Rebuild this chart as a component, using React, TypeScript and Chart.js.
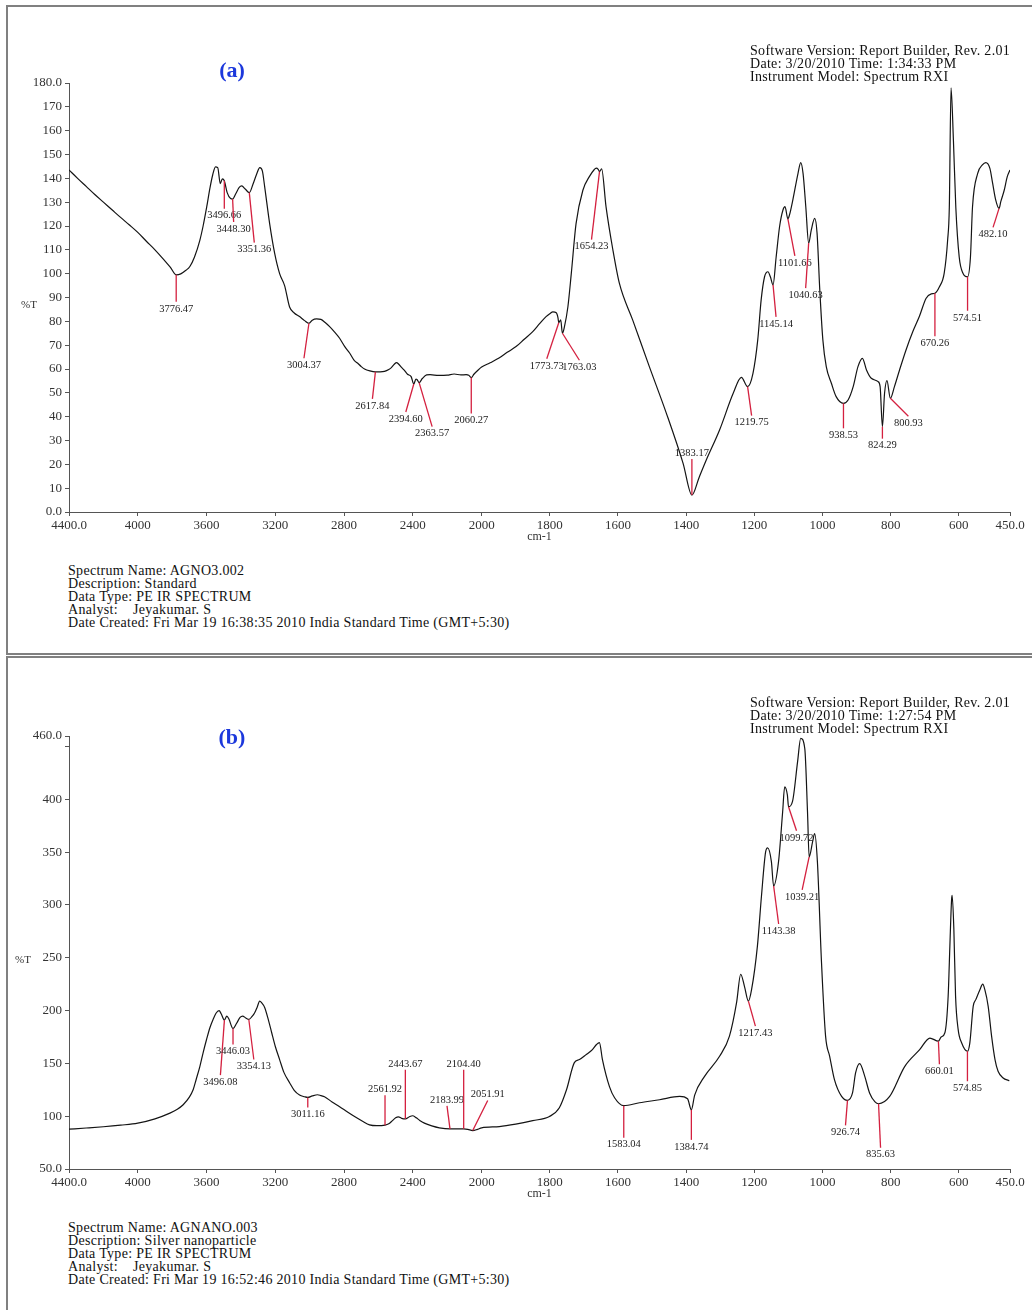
import React, { useEffect, useRef } from 'react';
import { Chart, LinearScale, registerables } from 'chart.js';

// ---------- Spectrum (a): AgNO3 standard ----------
const wavenumbersA = [
  4400, 4350, 4300, 4250, 4200, 4150, 4100, 4050, 4000, 3950, 3900, 3850, 3810, 3776.47, 3750, 3720,
  3697, 3670, 3639, 3620, 3599, 3580, 3564, 3548, 3535, 3520, 3508, 3496.66, 3480, 3460, 3448.3, 3430,
  3410, 3395, 3375, 3351.36, 3330, 3310, 3290, 3275, 3262, 3233, 3204, 3175, 3146, 3117, 3090, 3059,
  3030, 3004.37, 2985, 2960, 2935, 2910, 2884, 2855, 2826, 2797, 2768, 2740, 2722, 2700, 2681, 2650,
  2617.84, 2590, 2565, 2540, 2525, 2508, 2495, 2482, 2466, 2450, 2431, 2410, 2394.6, 2382, 2375, 2363.57,
  2345, 2320, 2300, 2250, 2200, 2160, 2120, 2090, 2075, 2060.27, 2045, 2020, 2000, 1975, 1949, 1925,
  1899, 1875, 1850, 1830, 1811, 1800, 1791, 1781, 1776, 1773.73, 1768, 1763.03, 1757, 1747, 1737, 1723,
  1703, 1684, 1670, 1664, 1658, 1654.23, 1648, 1635, 1615, 1596, 1557, 1508, 1458, 1409, 1383.17, 1362,
  1341, 1302, 1262, 1238, 1219.75, 1204, 1190, 1180, 1170, 1160, 1153, 1145.14, 1136, 1126, 1116, 1110,
  1101.66, 1097, 1087, 1072, 1064, 1057, 1049, 1040.63, 1033, 1023, 1016, 1008, 999, 989, 974, 960,
  938.53, 925, 910, 896, 883, 871, 857, 837, 831, 824.29, 818, 811, 800.93, 789, 774, 755,
  735, 716, 696, 681, 670.26, 657, 643, 633, 628, 623, 616, 609, 599, 588, 574.51, 566,
  560, 545, 531, 521, 509, 501, 492, 482.1, 477, 467, 458, 450,
];
const transmittanceA = [
  143.5, 140.0, 136.6, 133.2, 130.0, 126.8, 123.6, 120.5, 117.3, 113.6, 110.0, 106.0, 102.6, 99.5, 99.9, 101.4,
  103.0, 107.0, 114.0, 120.0, 128.0, 136.0, 141.5, 144.8, 144.5, 137.8, 139.8, 139.0, 134.0, 131.5, 131.3, 133.5,
  136.2, 136.8, 135.5, 134.0, 137.5, 141.5, 144.5, 143.0, 136.5, 121.0, 108.6, 100.0, 95.0, 86.0, 83.5, 82.0,
  80.3, 79.2, 80.5, 81.0, 80.8, 79.5, 77.8, 75.5, 72.9, 69.5, 66.7, 63.5, 62.5, 61.0, 60.0, 59.2,
  58.8, 58.8, 59.0, 59.8, 60.6, 62.0, 62.7, 62.0, 60.7, 59.5, 57.8, 56.8, 53.7, 55.8, 55.5, 54.3,
  56.0, 57.5, 57.6, 57.3, 57.4, 57.9, 57.5, 57.6, 57.4, 56.4, 57.8, 59.6, 60.8, 62.6, 64.6, 67.0,
  69.4, 72.5, 75.7, 79.0, 82.0, 83.2, 84.0, 83.6, 81.5, 79.4, 80.6, 75.0, 77.8, 86.0, 100.0, 121.0,
  135.0, 140.7, 143.6, 144.3, 143.8, 142.8, 144.0, 128.0, 110.0, 96.0, 80.6, 61.0, 41.4, 20.4, 7.1, 14.5,
  21.8, 34.4, 49.8, 56.5, 52.6, 58.2, 72.2, 89.0, 98.7, 100.8, 98.7, 95.3, 107.0, 119.7, 126.7, 128.1,
  123.0, 124.6, 131.0, 142.0, 146.6, 142.0, 128.0, 112.8, 118.3, 123.2, 117.0, 93.2, 72.2, 61.0, 54.0, 48.4,
  45.6, 47.0, 52.6, 61.0, 64.5, 59.6, 56.1, 54.7, 52.6, 35.8, 49.8, 55.1, 47.7, 52.6, 59.6, 68.0,
  75.7, 82.0, 89.7, 91.5, 91.8, 94.5, 100.2, 114.0, 128.0, 178.0, 156.0, 128.0, 107.0, 100.2, 98.7, 107.0,
  128.0, 142.0, 145.6, 146.6, 144.2, 138.0, 131.0, 127.4, 130.2, 135.0, 140.7, 143.5,
];
const peaksA = [
  3776.47, 3496.66, 3448.3, 3351.36, 3004.37, 2617.84, 2394.6, 2363.57, 2060.27, 1773.73, 1763.03, 1654.23,
  1383.17, 1219.75, 1145.14, 1101.66, 1040.63, 938.53, 824.29, 800.93, 670.26, 574.51, 482.1,
];
// leader line end, in pixels from the marked point
const leadersA: [number, number][] = [
  [0, 27], [0, 28], [1, 23], [5, 50], [-5, 35], [-3, 27], [-8, 28], [13, 44], [0, 36], [-12, 36], [17, 27], [-8, 68],
  [0, -36], [4, 29], [3, 32], [7, 37], [-3, 45], [0, 25], [0, 12], [18, 18], [0, 43], [0, 34], [-6, 19],
];

// ---------- Spectrum (b): silver nanoparticles ----------
const wavenumbersB = [
  4400, 4300, 4200, 4100, 4000, 3900, 3813, 3770, 3736, 3700, 3678, 3660, 3639, 3620, 3600, 3580,
  3562, 3545, 3527, 3515, 3496.08, 3482, 3470, 3446.03, 3425, 3405, 3390, 3372, 3354.13, 3335, 3320, 3305,
  3291, 3280, 3262, 3240, 3221, 3200, 3175, 3150, 3117, 3090, 3059, 3030, 3011.16, 2985, 2954, 2935,
  2914, 2870, 2826, 2780, 2739, 2695, 2652, 2610, 2561.92, 2540, 2524, 2500, 2484, 2465, 2443.67, 2420,
  2402, 2380, 2360, 2333, 2290, 2246, 2183.99, 2140, 2104.4, 2080, 2051.91, 2025, 2000, 1948, 1900, 1850,
  1801, 1772, 1751, 1728, 1713, 1693, 1675, 1663, 1654.5, 1645.6, 1625, 1610, 1583.04, 1537, 1478, 1419,
  1396, 1384.74, 1375, 1346, 1302, 1273, 1252, 1240, 1229, 1217.43, 1208, 1191, 1179, 1167, 1161, 1150,
  1143.38, 1129, 1117, 1111, 1103, 1099.72, 1088, 1073, 1064, 1052, 1044, 1039.21, 1029, 1023, 1015, 1003,
  991, 979, 965, 944, 926.74, 912, 903, 891, 876, 862, 846, 835.63, 803, 759, 715, 685,
  660.01, 652, 641, 631.4, 626.4, 621.4, 619.7, 614.7, 609.7, 602, 592, 574.85, 567.8, 558, 550, 538,
  530, 524, 514, 504, 494, 485, 470, 455, 452,
];
const transmittanceB = [
  87.7, 88.8, 90.0, 91.5, 93.4, 97.5, 102.9, 106.5, 110.8, 118.0, 125.0, 135.0, 147.0, 160.0, 172.6, 184.0,
  191.6, 197.5, 200.0, 197.0, 191.0, 194.8, 192.0, 183.0, 188.0, 193.5, 194.8, 193.0, 191.6, 194.5, 198.0, 203.5,
  209.0, 207.5, 203.0, 191.0, 179.0, 166.0, 153.6, 141.5, 131.7, 124.5, 120.0, 118.4, 117.8, 119.2, 120.3, 119.5,
  118.4, 113.5, 109.0, 104.0, 99.7, 95.5, 91.8, 91.0, 91.5, 92.8, 95.0, 98.5, 99.4, 98.0, 97.5, 99.5,
  100.4, 98.5, 96.0, 93.4, 90.8, 89.0, 88.0, 88.0, 88.0, 87.5, 86.4, 87.5, 89.0, 90.2, 92.5, 95.8,
  99.7, 108.0, 125.0, 150.7, 153.6, 158.4, 163.0, 167.9, 169.7, 153.6, 128.0, 117.5, 110.0, 112.7, 115.6, 118.7,
  116.5, 106.0, 120.0, 137.7, 156.7, 175.8, 207.8, 234.4, 223.0, 209.0, 220.0, 261.0, 308.8, 350.0, 354.0, 341.0,
  318.0, 341.0, 388.0, 411.9, 404.0, 393.0, 398.0, 436.0, 457.8, 448.0, 388.0, 345.6, 360.0, 367.5, 341.0, 245.8,
  175.8, 156.7, 134.6, 118.7, 115.0, 122.0, 141.0, 149.8, 137.7, 122.0, 113.5, 111.8, 118.7, 147.0, 163.0, 174.0,
  171.0, 175.0, 179.0, 213.8, 261.0, 305.0, 309.0, 277.0, 213.8, 182.0, 169.5, 161.5, 169.5, 204.0, 210.6, 220.0,
  225.0, 220.0, 204.0, 175.8, 153.6, 142.5, 136.2, 133.9, 133.6,
];
const peaksB = [
  3496.08, 3446.03, 3354.13, 3011.16, 2561.92, 2443.67, 2183.99, 2104.4, 2051.91, 1583.04, 1384.74, 1217.43,
  1143.38, 1099.72, 1039.21, 926.74, 835.63, 660.01, 574.85,
];
const leadersB: [number, number][] = [
  [-4, 55], [0, 16], [5, 40], [0, 10], [0, -30], [0, -49], [-3, -23], [0, -59], [15, -30], [0, 32], [0, 30], [7, 25],
  [5, 38], [8, 24], [-7, 33], [-2, 25], [2, 44], [1, 23], [0, 30],
];

// ---------- axes ----------
const xTicks = [4400, 4000, 3600, 3200, 2800, 2400, 2000, 1800, 1600, 1400, 1200, 1000, 800, 600, 450];
const yTicksA = [0, 10, 20, 30, 40, 50, 60, 70, 80, 90, 100, 110, 120, 130, 140, 150, 160, 170, 180];
const yTicksB = [50, 100, 150, 200, 250, 300, 350, 400, 450, 460];

const headerA = [
  'Software Version: Report Builder, Rev. 2.01',
  'Date: 3/20/2010 Time: 1:34:33 PM',
  'Instrument Model: Spectrum RXI',
];
const footerA = [
  'Spectrum Name: AGNO3.002',
  'Description: Standard',
  'Data Type: PE IR SPECTRUM',
  'Analyst:    Jeyakumar. S',
  'Date Created: Fri Mar 19 16:38:35 2010 India Standard Time (GMT+5:30)',
];
const headerB = [
  'Software Version: Report Builder, Rev. 2.01',
  'Date: 3/20/2010 Time: 1:27:54 PM',
  'Instrument Model: Spectrum RXI',
];
const footerB = [
  'Spectrum Name: AGNANO.003',
  'Description: Silver nanoparticle',
  'Data Type: PE IR SPECTRUM',
  'Analyst:    Jeyakumar. S',
  'Date Created: Fri Mar 19 16:52:46 2010 India Standard Time (GMT+5:30)',
];

const SERIF = '"Liberation Serif", "Times New Roman", serif';
const BREAK_WN = 2000;
const BREAK_FRACTION = 0.4385;

// Wavenumber axis with the usual IR scale change at 2000 cm-1 (expanded below it).
class WavenumberScale extends LinearScale {
  static id = 'wavenumber';
  static defaults = {};
  toDecimal(v: number) {
    const hi = this.max;
    const lo = this.min;
    if (v >= BREAK_WN) return ((hi - v) / (hi - BREAK_WN)) * BREAK_FRACTION;
    return BREAK_FRACTION + ((BREAK_WN - v) / (BREAK_WN - lo)) * (1 - BREAK_FRACTION);
  }
  getPixelForValue(v: number) {
    if (v === null || v === undefined || isNaN(v)) return NaN;
    return this.getPixelForDecimal(this.toDecimal(v));
  }
  getValueForPixel(p: number) {
    const d = this.getDecimalForPixel(p);
    if (d <= BREAK_FRACTION) return this.max - (d / BREAK_FRACTION) * (this.max - BREAK_WN);
    return BREAK_WN - ((d - BREAK_FRACTION) / (1 - BREAK_FRACTION)) * (BREAK_WN - this.min);
  }
}

Chart.register(...registerables, WavenumberScale);

function valueAt(wn: number[], t: number[], v: number) {
  for (let i = 0; i < wn.length - 1; i++) {
    if (wn[i] >= v && v >= wn[i + 1]) {
      const f = (wn[i] - v) / (wn[i] - wn[i + 1] || 1);
      return t[i] + f * (t[i + 1] - t[i]);
    }
  }
  return t[t.length - 1];
}

function leaderPlugin(wn: number[], t: number[], peaks: number[], leaders: [number, number][]) {
  return {
    id: 'peakLeaders',
    afterDatasetsDraw(chart: any) {
      const { ctx } = chart;
      const x = chart.scales.x;
      const y = chart.scales.y;
      ctx.save();
      ctx.lineWidth = 1.3;
      ctx.strokeStyle = '#d4203f';
      ctx.fillStyle = '#222';
      ctx.font = `10.5px ${SERIF}`;
      ctx.textAlign = 'center';
      ctx.textBaseline = 'middle';
      peaks.forEach((p, i) => {
        const [dx, dy] = leaders[i];
        const px = x.getPixelForValue(p);
        const py = y.getPixelForValue(valueAt(wn, t, p));
        ctx.beginPath();
        ctx.moveTo(px, py);
        ctx.lineTo(px + dx, py + dy);
        ctx.stroke();
        ctx.fillText(p.toFixed(2), px + dx, py + dy + (dy > 0 ? 7 : -6));
      });
      ctx.restore();
    },
  };
}

type SpectrumProps = {
  top: number;
  padTop: number;
  wn: number[];
  t: number[];
  yMin: number;
  yMax: number;
  yTicks: number[];
  yLabel: (v: number) => string;
  peaks: number[];
  leaders: [number, number][];
};

function Spectrum({ top, padTop, wn, t, yMin, yMax, yTicks, yLabel, peaks, leaders }: SpectrumProps) {
  const ref = useRef<HTMLCanvasElement>(null);
  useEffect(() => {
    const tickFont = { family: SERIF, size: 13 };
    const chart = new Chart(ref.current as HTMLCanvasElement, {
      type: 'line',
      data: {
        datasets: [
          {
            data: wn.map((w, i) => ({ x: w, y: t[i] })),
            borderColor: '#141414',
            borderWidth: 1.2,
            pointRadius: 0,
            fill: false,
            cubicInterpolationMode: 'monotone',
          },
        ],
      },
      options: {
        animation: false,
        responsive: false,
        devicePixelRatio: 1,
        events: [],
        layout: { padding: { top: padTop, right: 22, left: 0, bottom: 0 } },
        plugins: { legend: { display: false }, tooltip: { enabled: false } },
        scales: {
          x: {
            type: 'wavenumber',
            min: 450,
            max: 4400,
            afterBuildTicks: (s: any) => {
              s.ticks = xTicks.map((v) => ({ value: v }));
            },
            afterFit: (s: any) => {
              s.height = 48;
            },
            ticks: {
              autoSkip: false,
              maxRotation: 0,
              minRotation: 0,
              padding: 2,
              color: '#333',
              font: tickFont,
              callback: (v: number) => (v === 4400 ? '4400.0' : v === 450 ? '450.0' : String(v)),
            },
            grid: { drawOnChartArea: false, drawTicks: true, tickLength: 4, color: '#555' },
            border: { display: true, color: '#555', width: 1 },
            title: {
              display: true,
              text: 'cm-1',
              color: '#333',
              font: { family: SERIF, size: 12 },
              padding: { top: 0, bottom: 16 },
            },
          } as any,
          y: {
            type: 'linear',
            min: yMin,
            max: yMax,
            afterBuildTicks: (s: any) => {
              s.ticks = yTicks.map((v) => ({ value: v }));
            },
            afterFit: (s: any) => {
              s.width = 69;
            },
            ticks: {
              autoSkip: false,
              padding: 3,
              color: '#333',
              font: tickFont,
              callback: (v: number) => yLabel(v),
            },
            grid: { drawOnChartArea: false, drawTicks: true, tickLength: 4, color: '#555' },
            border: { display: true, color: '#555', width: 1 },
          },
        },
      },
      plugins: [leaderPlugin(wn, t, peaks, leaders)],
    } as any);
    return () => chart.destroy();
  }, []);
  return (
    <canvas
      ref={ref}
      width={1032}
      height={560}
      style={{ position: 'absolute', left: 0, top, width: 1032, height: 560 }}
    />
  );
}

const textBase: React.CSSProperties = {
  position: 'absolute',
  fontFamily: SERIF,
  fontSize: 14,
  lineHeight: '13px',
  letterSpacing: '0.3px',
  color: '#111',
  whiteSpace: 'pre',
  margin: 0,
};

function Lines({ lines, left, top }: { lines: string[]; left: number; top: number }) {
  return (
    <div style={{ ...textBase, left, top }}>
      {lines.map((l, i) => (
        <div key={i}>{l}</div>
      ))}
    </div>
  );
}

function PanelTag({ text, top }: { text: string; top: number }) {
  return (
    <div
      style={{
        position: 'absolute',
        left: 212,
        top,
        width: 40,
        textAlign: 'center',
        fontFamily: SERIF,
        fontWeight: 'bold',
        fontSize: 22,
        lineHeight: '24px',
        color: '#1c38dc',
      }}
    >
      {text}
    </div>
  );
}

function AxisName({ left, top }: { left: number; top: number }) {
  return (
    <div style={{ position: 'absolute', left, top, fontFamily: SERIF, fontSize: 11, lineHeight: '12px', color: '#333' }}>
      %T
    </div>
  );
}

const frame: React.CSSProperties = {
  position: 'absolute',
  left: 6,
  width: 1060,
  border: '2px solid #808080',
  boxSizing: 'border-box',
};

export default function App() {
  const labelA = (v: number) => (v === 0 ? '0.0' : v === 180 ? '180.0' : String(v));
  const labelB = (v: number) => (v === 50 ? '50.0' : v === 460 ? '460.0' : v === 450 ? '' : String(v));
  return (
    <div
      style={{
        position: 'absolute',
        left: 0,
        top: 0,
        width: 1032,
        height: 1310,
        overflow: 'hidden',
        background: '#fff',
      }}
    >
      <div style={{ ...frame, top: 5, height: 650 }} />
      <div style={{ ...frame, top: 656, height: 700 }} />

      <Spectrum
        top={0}
        padTop={83}
        wn={wavenumbersA}
        t={transmittanceA}
        yMin={0}
        yMax={180}
        yTicks={yTicksA}
        yLabel={labelA}
        peaks={peaksA}
        leaders={leadersA}
      />
      <Spectrum
        top={657}
        padTop={79}
        wn={wavenumbersB}
        t={transmittanceB}
        yMin={50}
        yMax={460}
        yTicks={yTicksB}
        yLabel={labelB}
        peaks={peaksB}
        leaders={leadersB}
      />

      <PanelTag text="(a)" top={58} />
      <PanelTag text="(b)" top={725} />
      <AxisName left={21} top={298} />
      <AxisName left={15} top={953} />
      <Lines lines={headerA} left={750} top={44} />
      <Lines lines={footerA} left={68} top={564} />
      <Lines lines={headerB} left={750} top={696} />
      <Lines lines={footerB} left={68} top={1221} />
    </div>
  );
}
